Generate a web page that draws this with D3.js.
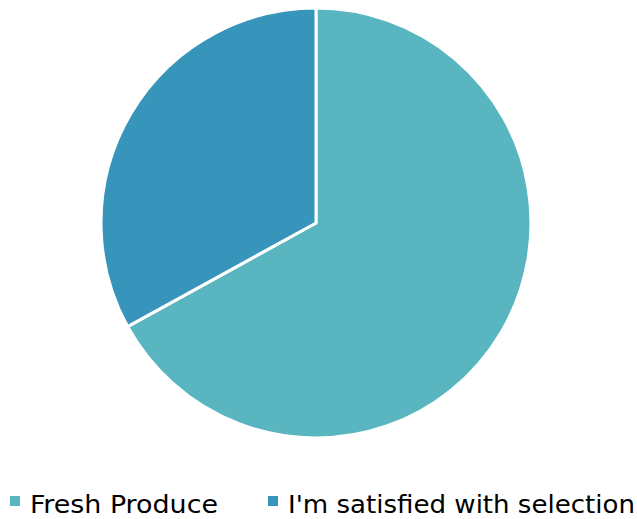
<!DOCTYPE html>
<html>
<head>
<meta charset="utf-8">
<script src="https://cdn.jsdelivr.net/npm/d3@7"></script>
<style>
  body { margin: 0; background: #fff; }
</style>
</head>
<body>
<script>
// Chart data
const categories = ["Fresh Produce", "I'm satisfied with selection"];
const values = [67, 33];
const colors = ["#59b6c0", "#3795bb"];

const w = 637; // Width of the SVG
const h = 519; // Height of the SVG
const cx = 316, cy = 223, radius = 215;

const svg = d3.select("body").append("svg").attr("width", w).attr("height", h);

// Pie layout, first slice starts at 12 o'clock going clockwise
const pie = d3.pie().sort(null).value((d) => d)(values);
const arc = d3.arc().innerRadius(0).outerRadius(radius);

svg.append("g")
	.attr("transform", `translate(${cx}, ${cy})`)
	.selectAll("path")
	.data(pie)
	.enter()
	.append("path")
	.attr("d", arc)
	.attr("fill", (d, i) => colors[i])
	.attr("stroke", "#fff")
	.attr("stroke-width", 3)
	.attr("stroke-linejoin", "round");

// Legend
const legendX = [10, 268];
const textLen = [188, 347];
const legend = svg.append("g").attr("id", "legend");

categories.forEach((c, i) => {
	legend.append("rect")
		.attr("x", legendX[i])
		.attr("y", 496)
		.attr("width", 10)
		.attr("height", 10)
		.attr("fill", colors[i]);

	legend.append("text")
		.attr("x", legendX[i] + 20)
		.attr("y", 513)
		.attr("font-family", "DejaVu Sans Condensed, DejaVu Sans, sans-serif")
		.attr("font-size", 25)
		.attr("fill", "#000")
		.attr("textLength", textLen[i])
		.attr("lengthAdjust", "spacingAndGlyphs")
		.text(c);
});
</script>
</body>
</html>
